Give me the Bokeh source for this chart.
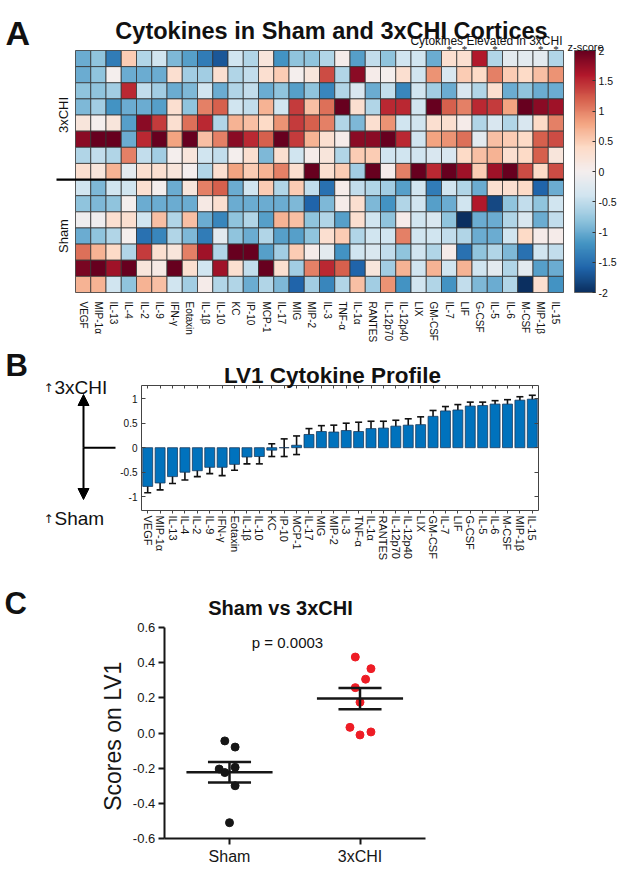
import numpy as np
from math import pi
from bokeh.plotting import figure
from bokeh.models import (ColumnDataSource, LinearColorMapper, ColorBar, Label, LabelSet, Range1d,
                          FixedTicker, Whisker, TeeHead, Arrow, NormalHead, LinearAxis,
                          NumeralTickFormatter)
from bokeh.embed import file_html
from bokeh.resources import INLINE

FONT = "Liberation Sans"
W, H = 620, 869

# ---------------- data ----------------
cytokines = ["VEGF", "MIP-1α", "IL-13", "IL-4", "IL-2", "IL-9", "IFN-γ", "Eotaxin", "IL-1β", "IL-10",
             "KC", "IP-10", "MCP-1", "IL-17", "MIG", "MIP-2", "IL-3", "TNF-α", "IL-1α", "RANTES",
             "IL-12p70", "IL-12p40", "LIX", "GM-CSF", "IL-7", "LIF", "G-CSF", "IL-5", "IL-6", "M-CSF",
             "MIP-1β", "IL-15"]

# z-scores, one row per animal (8 x 3xCHI then 7 x Sham)
chi_1 = [-1.0, -0.8, -1.4, 0.5, -0.6, -0.4, -0.9, -1.1, -1.4, -1.7, -0.4, -0.6, 0.2, -1.2, -0.8, -0.8, -0.6, 0.05, -1.1, -0.5, -0.8, -0.4, -0.4, -1.0, 0.3, 0.3, 1.6, -0.6, -0.2, -0.2, -0.2, -0.6]
chi_2 = [-1.0, -0.8, 0.0, -1.0, -1.0, -1.0, 0.3, -0.7, -0.7, 0.3, -0.6, -0.5, 0.3, 0.5, 0.0, 0.2, 1.3, -0.6, 1.8, 0.05, 0.0, 0.3, -0.4, 0.9, -0.3, 0.5, 0.4, 1.0, 0.5, 0.4, 0.6, 0.9]
chi_3 = [-0.8, -0.8, -0.7, 1.5, -0.5, -0.7, -1.0, -0.9, -0.4, -1.0, -0.6, -0.5, -1.0, -0.8, -1.1, -0.8, -1.3, -0.6, -0.3, -1.0, -0.5, -1.3, -0.4, -0.7, -1.0, -0.3, -0.6, 0.3, -1.0, -0.8, -1.0, -1.0]
chi_4 = [-0.9, -0.7, -1.2, -1.0, -1.0, -1.1, 0.3, -0.8, 1.0, 1.2, -0.4, -0.5, 0.7, -0.4, 1.4, 0.6, 1.1, 2.0, 0.3, -0.6, 1.5, 1.5, -0.4, 2.0, 1.2, 1.0, 1.5, 1.4, 0.8, 2.0, 1.8, 1.7]
chi_5 = [0.2, 0.0, 0.2, -1.1, 1.8, 1.4, 0.3, 1.1, 1.5, -0.6, 0.7, 0.6, 0.4, 0.9, 1.4, 1.2, 1.0, -0.6, -0.9, 0.3, 0.9, -0.4, -0.4, 0.3, 0.3, 0.05, -0.6, -0.3, -0.6, -0.3, 0.4, 1.0]
chi_6 = [1.8, 2.0, 2.0, -1.0, 1.5, 2.0, 0.8, 2.0, 0.6, 1.0, 1.8, 1.5, 1.2, 2.0, 1.4, 0.7, 0.3, 0.05, 1.8, 1.8, 2.0, 1.5, -0.4, 0.8, 0.9, 1.1, -0.2, 0.6, 0.5, 0.4, 1.2, 1.3]
chi_7 = [-0.6, -0.5, -0.6, 1.0, -0.5, -0.7, 0.0, 0.2, -0.4, -0.5, 0.0, 0.3, -0.9, 0.3, -0.4, 0.05, 0.2, -0.6, 0.5, 0.5, -0.4, -0.4, -0.4, -0.3, -0.3, 0.4, 0.6, 0.7, 0.3, 0.4, 1.2, 0.2]
chi_8 = [0.3, 0.2, 0.7, -0.2, 0.3, 0.3, 0.2, 0.0, -0.6, 0.3, 0.8, 0.5, 0.7, 1.0, 0.3, 2.0, 0.3, 0.5, -0.7, 2.0, 0.05, 1.0, 2.0, 1.5, 2.0, 1.7, 0.5, 1.7, 2.0, 1.3, 0.4, 1.3]
sham_1 = [-0.4, -0.9, -0.4, -0.4, 0.3, 0.0, -1.0, 0.2, 1.0, 1.2, -1.0, -0.4, 0.5, -0.6, 0.5, -0.5, -1.5, 0.05, -0.5, -0.6, -0.7, -1.1, -0.4, -1.4, -0.4, -0.6, -1.0, 0.3, 0.3, 0.4, -1.6, -1.0]
sham_2 = [-0.8, -0.9, -0.8, 0.0, -1.0, -1.0, -1.0, -1.0, 0.1, 0.3, -1.0, -1.0, -1.0, -1.0, -0.9, -1.6, -0.9, 0.05, 0.3, -0.9, -1.2, -0.6, -0.4, -1.1, -1.0, -0.4, 1.6, -1.8, -0.8, -0.5, -0.8, -0.4]
sham_3 = [-0.05, -0.05, 0.3, 0.3, -0.4, 0.6, -0.6, 0.6, -1.0, -1.3, -0.8, -0.6, -1.1, 0.7, 0.6, -0.8, -0.6, -1.1, 0.3, -0.4, -0.8, 0.05, -0.4, -0.3, -0.8, -2.0, -1.0, -1.0, -0.6, -0.3, -1.0, -0.5]
sham_4 = [-1.0, -0.8, -0.6, 0.0, -1.5, -1.3, -0.6, -0.9, -1.4, -0.2, -0.8, -1.0, -0.6, -1.1, -1.1, -0.8, 0.3, 0.5, -0.6, -0.4, -0.4, 1.0, -0.4, -0.4, -0.5, -0.6, -1.0, -1.0, -0.4, 0.4, 0.05, 0.05]
sham_5 = [1.1, 0.7, 0.4, -0.6, 1.4, 0.3, 0.2, 1.0, 1.7, -0.6, 2.0, 2.0, -1.1, -0.7, 0.5, 0.05, -0.2, -1.2, -0.4, -0.3, -0.5, -0.8, -0.4, -0.6, 0.05, -1.5, -0.8, -0.6, -0.9, -1.5, -0.4, -0.5]
sham_6 = [1.9, 2.0, 1.7, 2.0, 0.2, 0.1, 2.0, 0.3, -0.4, 1.7, 0.3, -0.5, 2.0, 0.3, -0.7, 1.0, 1.5, 1.2, -1.6, 0.2, -0.7, 0.7, -0.4, 0.7, -0.4, 0.7, -0.4, -0.2, -0.6, -0.2, -1.1, -1.0]
sham_7 = [0.7, 0.7, -0.4, -0.8, 0.7, 0.6, -0.4, -0.7, 0.05, -0.6, -0.6, -1.0, -0.6, -0.9, -1.6, -0.7, -1.3, -0.6, 0.6, -0.7, 0.9, -1.2, -0.4, -0.6, -1.2, -0.5, -0.9, -1.0, -0.6, -2.0, 0.3, -1.2]

heat_rows = [chi_1, chi_2, chi_3, chi_4, chi_5, chi_6, chi_7, chi_8,
             sham_1, sham_2, sham_3, sham_4, sham_5, sham_6, sham_7]
row_groups = ["3xCHI"] * 8 + ["Sham"] * 7
elevated = ["IL-7", "LIF", "IL-5", "MIP-1β", "IL-15"]
zscore_ticks = [-2, -1.5, -1, -0.5, 0, 0.5, 1, 1.5, 2]

lv1_mean = [-0.79, -0.72, -0.59, -0.50, -0.47, -0.40, -0.40, -0.34, -0.19, -0.18, -0.05, 0.0, 0.05,
            0.27, 0.33, 0.32, 0.35, 0.33, 0.39, 0.40, 0.44, 0.46, 0.47, 0.64, 0.75, 0.77, 0.85, 0.86,
            0.89, 0.89, 0.97, 0.99]
lv1_err = [0.13, 0.14, 0.14, 0.16, 0.12, 0.13, 0.17, 0.12, 0.14, 0.15, 0.13, 0.18, 0.19, 0.12, 0.12,
           0.14, 0.15, 0.19, 0.15, 0.14, 0.12, 0.13, 0.16, 0.12, 0.09, 0.11, 0.08, 0.07, 0.07, 0.09,
           0.07, 0.08]
lv1_ticks = [-1, -0.5, 0, 0.5, 1]

groups = ["Sham", "3xCHI"]
sham_scores = [-0.045, -0.08, -0.205, -0.225, -0.195, -0.30, -0.51]
sham_jitter = [-0.036, 0.043, -0.079, -0.036, 0.043, 0.043, 0.0]
chi_scores = [0.432, 0.366, 0.306, 0.258, 0.175, 0.032, -0.011, 0.006]
chi_jitter = [-0.036, 0.084, 0.043, -0.036, 0.0, -0.077, 0.0, 0.084]
score_ticks = [-0.6, -0.4, -0.2, 0.0, 0.2, 0.4, 0.6]
p_text = "p = 0.0003"


# ---------------- helpers ----------------
def interp_palette(anchors, n=256):
    cols = np.array([[int(h[i:i + 2], 16) for i in (1, 3, 5)] for h in anchors], float)
    pos = np.linspace(0, 1, len(anchors))
    t = np.linspace(0, 1, n)
    out = []
    for tt in t:
        rgb = [int(round(np.interp(tt, pos, cols[:, k]))) for k in range(3)]
        out.append("#%02x%02x%02x" % tuple(rgb))
    return out


def xrange_from(px_a, v_a, px_b, v_b):
    k = (v_b - v_a) / (px_b - px_a)
    return Range1d(v_a - k * px_a, v_a + k * (W - px_a))


def yrange_from(px_a, v_a, px_b, v_b):
    k = (v_b - v_a) / (px_b - px_a)
    return Range1d(v_a + k * (H - px_a), v_a - k * px_a)


rdbu = ["#0b2f60", "#2065ab", "#4393c3", "#92c5de", "#d1e5f0", "#f4eeee",
        "#fddbc7", "#f4a582", "#d6604d", "#b2182b", "#67001f"]
palette = interp_palette(rdbu)

ncol = len(cytokines)
nrow = len(heat_rows)

# one canvas; each panel gets its own scales mapped to its own region
p = figure(width=W, height=H, x_range=Range1d(0, W), y_range=Range1d(H, 0),
           x_axis_location=None, y_axis_location=None, output_backend="svg", toolbar_location=None,
           min_border_left=0, min_border_right=0, min_border_top=0, min_border_bottom=0)
p.outline_line_color = None
p.grid.visible = False

# panel regions (pixels)
HM_L, HM_R, HM_T, HM_B = 75, 563, 50, 292
BR_L, BR_R, BR_T, BR_B, BR_ZERO, BR_UNIT = 141, 538, 385, 510, 447.2, 49.0
SC_X1, SC_X2, SC_TOP, SC_BOT = 229, 359.5, 627, 838

p.extra_x_ranges = {
    "hx": xrange_from(HM_L, -0.5, HM_R, ncol - 0.5),
    "bx": xrange_from(BR_L, -0.5, BR_R, ncol - 0.5),
    "cx": xrange_from(SC_X1, 1, SC_X2, 2),
}
p.extra_y_ranges = {
    "hy": yrange_from(HM_T, -0.5, HM_B, nrow - 0.5),
    "by": yrange_from(BR_ZERO, 0, BR_ZERO - BR_UNIT, 1),
    "cy": yrange_from(SC_TOP, 0.6, SC_BOT, -0.6),
}
b_top = (BR_ZERO - BR_T) / BR_UNIT
b_bot = (BR_ZERO - BR_B) / BR_UNIT


def lab(x, y, text, size, bold=False, align="left", baseline="alphabetic", angle=0, color="#111111",
        font=FONT, **kw):
    p.add_layout(Label(x=x, y=y, text=text, text_font=font, text_font_size=size,
                       text_font_style="bold" if bold else "normal", text_align=align,
                       text_baseline=baseline, angle=angle, text_color=color, **kw))


# ---------------- Panel A: heatmap ----------------
xs, ys, vs = [], [], []
for r, vals in enumerate(heat_rows):
    for c, v in enumerate(vals):
        xs.append(c)
        ys.append(r)
        vs.append(v)
hsrc = ColumnDataSource(dict(x=xs, y=ys, v=vs))
mapper = LinearColorMapper(palette=palette, low=-2, high=2)
p.rect(x="x", y="y", width=1, height=1, source=hsrc, x_range_name="hx", y_range_name="hy",
       fill_color={"field": "v", "transform": mapper}, line_color="#333333", line_width=0.8)

n_chi = row_groups.count("3xCHI")
p.segment(x0=[-0.5 - 19 / 15.25], x1=[ncol - 0.5], y0=[n_chi - 0.5], y1=[n_chi - 0.5],
          x_range_name="hx", y_range_name="hy", line_color="black", line_width=2.2)

hax = LinearAxis(x_range_name="hx", y_range_name="hy", fixed_location=nrow - 0.5,
                 bounds=(-0.5, ncol - 0.5), ticker=FixedTicker(ticks=list(range(ncol))),
                 major_label_overrides={i: n for i, n in enumerate(cytokines)},
                 major_label_orientation="vertical", axis_line_color=None, major_tick_line_color=None,
                 minor_tick_line_color=None, major_label_standoff=3, major_label_text_font=FONT,
                 major_label_text_font_size="10px", major_label_text_color="#111111")
p.add_layout(hax, "below")

cb = ColorBar(color_mapper=mapper, location=(574, H - HM_B), width=21, height=HM_B - HM_T,
              padding=0, margin=0, ticker=FixedTicker(ticks=zscore_ticks),
              formatter=NumeralTickFormatter(format="0.[0]"),
              major_tick_in=3, major_tick_out=0, major_tick_line_color="#333333",
              label_standoff=3, major_label_text_font=FONT, major_label_text_font_size="10.5px",
              major_label_text_color="#111111",
              bar_line_color="#666666", background_fill_color=None, border_line_color=None)
p.add_layout(cb)

lab(5, 32, "A", "34px", bold=True)
lab(331, 30, "Cytokines in Sham and 3xCHI Cortices", "23.5px", bold=True, align="center")
lab(562, 40, "Cytokines Elevated in 3xCHI", "12px", align="right")
lab(585, 46, "z-score", "11px", align="center")
star_src = ColumnDataSource(dict(x=[cytokines.index(n) for n in elevated], y=[52] * len(elevated),
                                 t=["*"] * len(elevated)))
p.add_layout(LabelSet(x="x", y="y", text="t", source=star_src, x_range_name="hx",
                      text_font=FONT, text_font_size="11px", text_align="center",
                      text_baseline="alphabetic", text_color="#111111"))
lab(63, HM_T + (HM_B - HM_T) * (n_chi / nrow) / 2, "3xCHI", "13px", align="center", baseline="middle", angle=pi / 2)
lab(63, HM_T + (HM_B - HM_T) * (1 + n_chi / nrow) / 2, "Sham", "13px", align="center", baseline="middle", angle=pi / 2)

# ---------------- Panel B: LV1 profile ----------------
lab(5, 365, "B", "31px", bold=True)
lab(332, 375, "LV1 Cytokine Profile", "22.5px", bold=True, align="center")
p.add_layout(Arrow(x_start=83, y_start=BR_ZERO, x_end=83, y_end=394, line_width=2,
                   end=NormalHead(size=11, fill_color="black", line_color="black")))
p.add_layout(Arrow(x_start=83, y_start=BR_ZERO, x_end=83, y_end=499, line_width=2,
                   end=NormalHead(size=11, fill_color="black", line_color="black")))
p.segment(x0=[83], x1=[115], y0=[BR_ZERO], y1=[BR_ZERO], line_color="black", line_width=2)
for yb, t in [(387, "3xCHI"), (518, "Sham")]:
    lab(43, yb, "↑", "12px", font="DejaVu Sans")
    lab(54, yb, t, "19px")

idx = list(range(ncol))
bsrc = ColumnDataSource(dict(i=idx, m=lv1_mean,
                             up=[m + e for m, e in zip(lv1_mean, lv1_err)],
                             lo=[m - e for m, e in zip(lv1_mean, lv1_err)]))
p.vbar(x="i", top="m", bottom=0, width=0.8, source=bsrc, x_range_name="bx", y_range_name="by",
       fill_color="#0072BD", line_color="#1b3a5c", line_width=0.8)
p.add_layout(Whisker(source=bsrc, base="i", upper="up", lower="lo", x_range_name="bx", y_range_name="by",
                     line_width=1.6, line_color="#111111",
                     upper_head=TeeHead(size=7, line_width=1.6, line_color="#111111"),
                     lower_head=TeeHead(size=7, line_width=1.6, line_color="#111111")))

BOX = "#444444"
bl = LinearAxis(x_range_name="bx", y_range_name="by", fixed_location=-0.5, bounds=(b_bot, b_top),
                ticker=FixedTicker(ticks=lv1_ticks), formatter=NumeralTickFormatter(format="0.[0]"),
                major_tick_in=4, major_tick_out=0, minor_tick_line_color=None, axis_line_color=BOX,
                major_tick_line_color=BOX, major_label_text_font=FONT, major_label_text_font_size="10px",
                major_label_standoff=4, major_label_text_color="#111111")
p.add_layout(bl, "left")
br = LinearAxis(x_range_name="bx", y_range_name="by", fixed_location=ncol - 0.5, bounds=(b_bot, b_top),
                ticker=FixedTicker(ticks=lv1_ticks), major_tick_in=4, major_tick_out=0,
                minor_tick_line_color=None, axis_line_color=BOX, major_tick_line_color=BOX,
                major_label_text_color=None)
p.add_layout(br, "right")
bt = LinearAxis(x_range_name="bx", y_range_name="by", fixed_location=b_top, bounds=(-0.5, ncol - 0.5),
                ticker=FixedTicker(ticks=idx), major_tick_in=3, major_tick_out=0,
                minor_tick_line_color=None, axis_line_color=BOX, major_tick_line_color=BOX,
                major_label_text_color=None)
p.add_layout(bt, "above")
bb = LinearAxis(x_range_name="bx", y_range_name="by", fixed_location=b_bot, bounds=(-0.5, ncol - 0.5),
                ticker=FixedTicker(ticks=idx), major_label_overrides={i: n for i, n in enumerate(cytokines)},
                major_label_orientation="vertical", major_tick_in=0, major_tick_out=3,
                minor_tick_line_color=None, axis_line_color=BOX, major_tick_line_color=BOX,
                major_label_text_font=FONT, major_label_text_font_size="11px",
                major_label_standoff=2, major_label_text_color="#111111")
p.add_layout(bb, "below")

# ---------------- Panel C: scores ----------------
lab(4, 603, "C", "31px", bold=True)
lab(280, 607, "Sham vs 3xCHI", "20px", bold=True, align="center")
lab(287, 642, p_text, "15px", align="center")

gpos = {g: i + 1 for i, g in enumerate(groups)}
for g, sc, jt, col in [("Sham", sham_scores, sham_jitter, "#161616"),
                       ("3xCHI", chi_scores, chi_jitter, "#ee1c25")]:
    xc = gpos[g]
    p.scatter(x=[xc + j for j in jt], y=sc, size=8, fill_color=col, line_color=col,
              x_range_name="cx", y_range_name="cy")
    arr = np.array(sc)
    mu = arr.mean()
    sem = arr.std(ddof=1) / np.sqrt(len(arr))
    p.segment(x0=[xc - 0.33, xc - 0.165, xc - 0.165, xc], x1=[xc + 0.33, xc + 0.165, xc + 0.165, xc],
              y0=[mu, mu + sem, mu - sem, mu - sem], y1=[mu, mu + sem, mu - sem, mu + sem],
              x_range_name="cx", y_range_name="cy", line_color="#161616", line_width=2.5)

INK = "#161616"
cl = LinearAxis(x_range_name="cx", y_range_name="cy", fixed_location=0.5, bounds=(-0.6, 0.6),
                ticker=FixedTicker(ticks=score_ticks), formatter=NumeralTickFormatter(format="0.0"),
                axis_label="Scores on  LV1", axis_label_text_font=FONT, axis_label_text_font_size="23px",
                axis_label_text_font_style="normal", axis_label_standoff=4, axis_label_text_color=INK,
                major_label_text_font_size="13px")
cbx = LinearAxis(x_range_name="cx", y_range_name="cy", fixed_location=-0.6, bounds=(0.5, 2.5),
                 ticker=FixedTicker(ticks=[gpos[g] for g in groups]),
                 major_label_overrides={gpos[g]: g for g in groups}, major_label_text_font_size="16px")
for a_ in (cl, cbx):
    a_.axis_line_width = 2
    a_.axis_line_color = INK
    a_.major_tick_line_width = 2
    a_.major_tick_line_color = INK
    a_.major_tick_out = 6
    a_.major_tick_in = 0
    a_.minor_tick_line_color = None
    a_.major_label_text_font = FONT
    a_.major_label_text_color = INK
    a_.major_label_standoff = 3
p.add_layout(cl, "left")
p.add_layout(cbx, "below")

open("out.html", "w").write(file_html(p, INLINE))
